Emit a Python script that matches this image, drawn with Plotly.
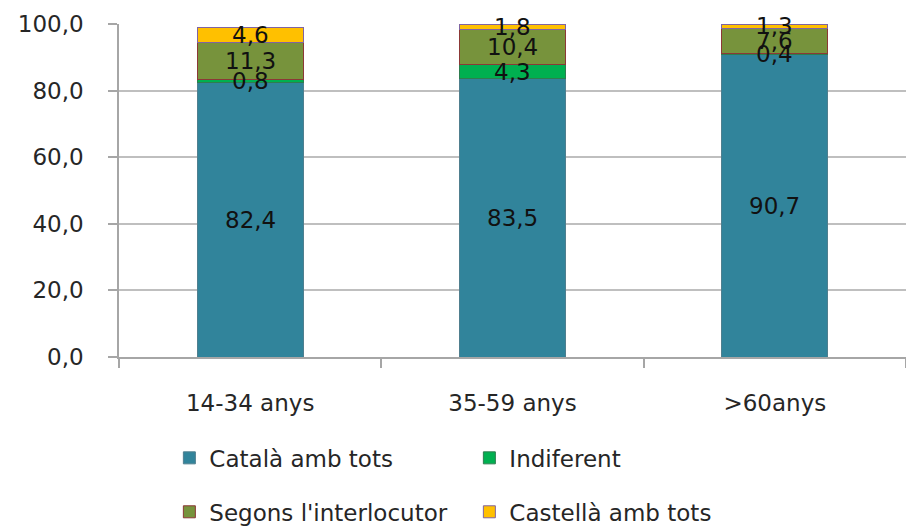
import plotly.graph_objects as go

# Age groups and the share (%) of each language-use answer
categories = ["14-34 anys", "35-59 anys", ">60anys"]
series_names = ["Català amb tots", "Indiferent", "Segons l'interlocutor", "Castellà amb tots"]
catala = [82.4, 83.5, 90.7]
indiferent = [0.8, 4.3, 0.4]
segons = [11.3, 10.4, 7.6]
castella = [4.6, 1.8, 1.3]
y_ticks = [0, 20, 40, 60, 80, 100]

values = [catala, indiferent, segons, castella]
fills = ["#31849B", "#00B050", "#77933C", "#FFC000"]
edges = ["#4F7F8F", "#2E7D4F", "#8C3836", "#8064A2"]
legend_ids = ["legend", "legend", "legend2", "legend2"]

FONT = "DejaVu Sans"
FS = 23

fig = go.Figure()
for name, vals, fc, ec, lg in zip(series_names, values, fills, edges, legend_ids):
    fig.add_trace(go.Bar(
        x=categories, y=vals, name=name,
        marker=dict(color=fc, line=dict(color=ec, width=1)),
        legend=lg, hoverinfo="skip",
    ))

# value labels centred in each stacked segment
annotations = []
for i, cat in enumerate(categories):
    base = 0.0
    for vals in values:
        v = vals[i]
        annotations.append(dict(
            x=cat, y=base + v / 2, xref="x", yref="y",
            text=f"{v:.1f}".replace(".", ","), showarrow=False,
            font=dict(family=FONT, size=FS, color="#111111"),
            xanchor="center", yanchor="middle",
        ))
        base += v

fig.update_layout(
    width=906, height=528,
    margin=dict(l=119, r=0, t=24, b=171, autoexpand=False),
    barmode="stack", bargap=0.597,
    separators=",.",
    paper_bgcolor="white", plot_bgcolor="white",
    font=dict(family=FONT, size=FS, color="#262626"),
    annotations=annotations,
    xaxis=dict(
        showline=True, linecolor="#A6A6A6", linewidth=1.5,
        ticks="outside", tickson="boundaries", ticklen=9, tickcolor="#A6A6A6",
        tickwidth=1.5, ticklabelstandoff=25,
        tickfont=dict(family=FONT, size=FS, color="#262626"),
    ),
    yaxis=dict(
        range=[0, 100], tickvals=y_ticks, tickformat=".1f",
        showline=True, linecolor="#A6A6A6", linewidth=1.5,
        ticks="outside", ticklen=9, tickcolor="#A6A6A6", tickwidth=1.5,
        showgrid=True, gridcolor="#BFBFBF", gridwidth=1.5,
        zeroline=False, ticklabelstandoff=20,
        tickfont=dict(family=FONT, size=FS, color="#262626"),
    ),
    legend=dict(
        orientation="h", x=0.064, xanchor="left", y=-0.303, yanchor="middle",
        entrywidth=255, entrywidthmode="pixels",
        font=dict(family=FONT, size=FS, color="#262626"),
        bgcolor="rgba(0,0,0,0)", traceorder="normal",
    ),
    legend2=dict(
        orientation="h", x=0.064, xanchor="left", y=-0.465, yanchor="middle",
        entrywidth=255, entrywidthmode="pixels",
        font=dict(family=FONT, size=FS, color="#262626"),
        bgcolor="rgba(0,0,0,0)", traceorder="normal",
    ),
)

fig.write_html("out.html")
